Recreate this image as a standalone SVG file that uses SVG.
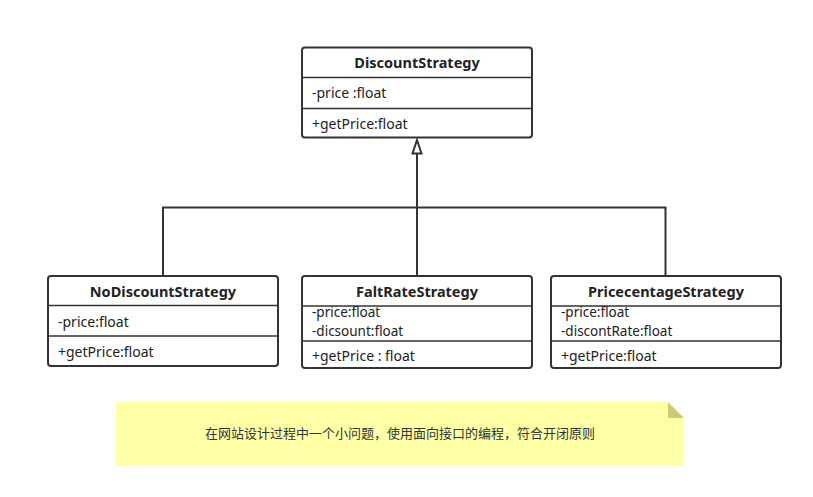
<svg xmlns="http://www.w3.org/2000/svg" width="813" height="497" viewBox="0 0 813 497">
<style>
.box{fill:#fff;stroke:#333;stroke-width:2}
.div{stroke:#333;stroke-width:1.6}
.t{font-family:"Noto Sans","Noto Sans CJK SC",sans-serif;font-size:14px;fill:#222}
.s{font-size:13.5px}
.b{font-weight:bold;text-anchor:middle;font-size:14.5px}
.conn{fill:none;stroke:#333;stroke-width:2}
.note{font-family:"Noto Sans CJK SC","Noto Sans",sans-serif;font-size:13px;fill:#333;text-anchor:middle}
</style>
<rect width="813" height="497" fill="#fff"/>
<g id="connectors">
<polyline class="conn" points="163,276 163,207.5 665.5,207.5 665.5,276"/>
<line class="conn" x1="417" y1="276" x2="417" y2="154"/>
<path d="M417 140 L421.5 153.5 L412.5 153.5 Z" fill="#fff" stroke="#333" stroke-width="2"/>
</g>
<g id="DiscountStrategy">
<rect class="box" x="302" y="47.5" width="230" height="90" rx="3"/>
<line class="div" x1="302" y1="77.5" x2="532" y2="77.5"/>
<line class="div" x1="302" y1="108.5" x2="532" y2="108.5"/>
<text class="t b" x="417" y="68">DiscountStrategy</text>
<text class="t" x="312" y="98">-price :float</text>
<text class="t" x="312" y="129">+getPrice:float</text>
</g>
<g id="NoDiscountStrategy">
<rect class="box" x="48" y="276" width="230" height="90" rx="3"/>
<line class="div" x1="48" y1="305.5" x2="278" y2="305.5"/>
<line class="div" x1="48" y1="336" x2="278" y2="336"/>
<text class="t b" x="163" y="297">NoDiscountStrategy</text>
<text class="t" x="58" y="327">-price:float</text>
<text class="t" x="58" y="357">+getPrice:float</text>
</g>
<g id="FaltRateStrategy">
<rect class="box" x="302" y="276" width="230" height="92" rx="3"/>
<line class="div" x1="302" y1="306" x2="532" y2="306"/>
<line class="div" x1="302" y1="341" x2="532" y2="341"/>
<text class="t b" x="417" y="297">FaltRateStrategy</text>
<text class="t s" x="312" y="317">-price:float</text>
<text class="t s" x="312" y="335.5">-dicsount:float</text>
<text class="t" x="312" y="361">+getPrice : float</text>
</g>
<g id="PricecentageStrategy">
<rect class="box" x="551" y="276" width="230" height="92" rx="3"/>
<line class="div" x1="551" y1="306" x2="781" y2="306"/>
<line class="div" x1="551" y1="341" x2="781" y2="341"/>
<text class="t b" x="666" y="297">PricecentageStrategy</text>
<text class="t s" x="561" y="317">-price:float</text>
<text class="t s" x="561" y="335.5">-discontRate:float</text>
<text class="t" x="561" y="361">+getPrice:float</text>
</g>
<g id="note">
<path d="M116 402 L668 402 L684 418 L684 465 L116 465 Z" fill="#ffffa6"/>
<path d="M668 402 L684 418 L668 418 Z" fill="#cccc77"/>
<text class="note" x="400" y="438">在网站设计过程中一个小问题，使用面向接口的编程，符合开闭原则</text>
</g>
</svg>
